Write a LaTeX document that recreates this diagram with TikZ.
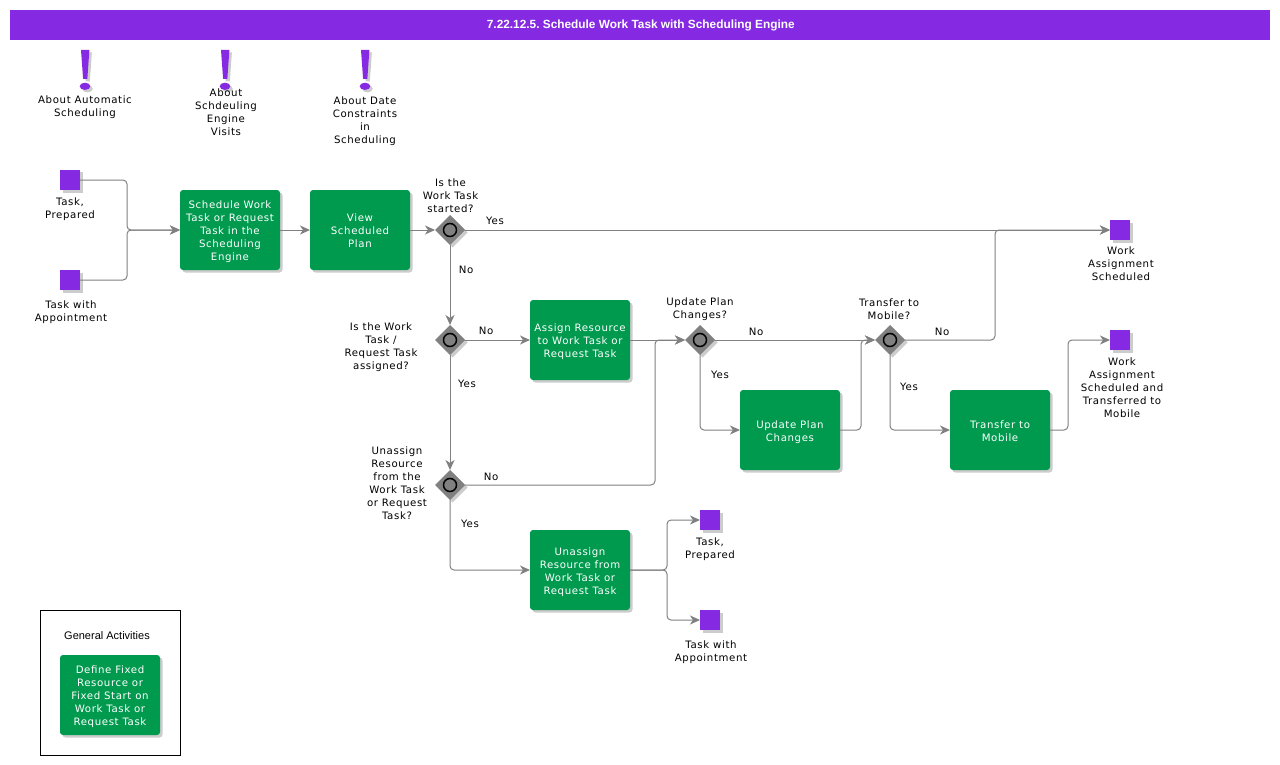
\documentclass[tikz,border=0pt]{standalone}
\usepackage{fontspec}
\setmainfont[LetterSpace=6]{DejaVu Sans}
\newfontfamily\headfont{Liberation Sans}
\usetikzlibrary{arrows.meta,shapes.geometric,shadows}
\definecolor{flowpurple}{HTML}{8529E2}
\definecolor{flowgreen}{HTML}{009A4E}
\definecolor{flowgrey}{HTML}{808080}
\newcommand{\tasktext}[1]{\rule{0pt}{12pt}#1\rule[-2.5pt]{0pt}{0pt}}
\tikzset{
  softshadow/.style={drop shadow={shadow xshift=2.5pt,shadow yshift=-2.5pt,fill=black,opacity=.2}},
  taskbox/.style={fill=flowgreen,rounded corners=3pt,minimum width=100pt,minimum height=80pt,inner sep=0pt,outer sep=0pt,
    text=white,align=center,font=\fontsize{10.2}{13}\selectfont,softshadow},
  endsquare/.style={fill=flowpurple,minimum size=20pt,inner sep=0pt,outer sep=0pt,softshadow},
  gateway/.style={diamond,fill=flowgrey,minimum size=30pt,inner sep=0pt,outer sep=0pt,softshadow},
  gatering/.style={circle,draw=black,fill=flowgrey,line width=1.5pt,minimum size=13pt,inner sep=0pt},
  caption/.style={align=center,text=black,inner sep=0pt,yshift=-1pt,font=\fontsize{10.2}{13}\selectfont},
  flow/.style={draw=flowgrey,line width=1pt,rounded corners=4pt,-{Stealth[length=10pt,width=9pt,inset=3pt]}},
  alertbar/.style={fill=flowpurple,draw=none,softshadow}
}
\begin{document}
\begin{tikzpicture}[x=1pt,y=-1pt]
\useasboundingbox (0,0) rectangle (1280,765);
% title band
\node[fill=flowpurple,minimum width=1260pt,minimum height=30pt,inner sep=0pt,text=white,
  font=\headfont\bfseries\fontsize{11.85}{14}\selectfont] (titleband) at (640,25) {\frenchspacing\hspace*{1.5pt}\raisebox{-1pt}{7.22.12.5. Schedule Work Task with Scheduling Engine}};
% alert marks
\foreach \x in {85,225,365} {
  \path[alertbar] (\x-4,50) -- (\x+4.4,50) -- (\x+2.3,79) -- (\x-1.9,79) -- cycle;
  \path[alertbar] (\x,86.3) ellipse (5.3 and 3.6);
}
\node[caption] (aboutAuto) at (85,106.5) {About Automatic\\Scheduling};
\node[caption] (aboutVisits) at (226,111.5) {About\\Schdeuling\\Engine\\Visits};
\node[caption] (aboutDate) at (365,120) {About Date\\Constraints\\in\\Scheduling};
% events
\node[endsquare] (taskPrepared) at (70,180) {};
\node[endsquare] (taskAppt) at (70,280) {};
\node[endsquare] (assignDone) at (1120,230) {};
\node[endsquare] (mobileDone) at (1120,340) {};
\node[endsquare] (taskPreparedEnd) at (710,520) {};
\node[endsquare] (taskApptEnd) at (710,620) {};
\node[caption] (taskPreparedText) at (70,208) {Task,\\Prepared};
\node[caption] (taskApptText) at (71,311) {Task with\\Appointment};
\node[caption] (assignDoneText) at (1121,263) {Work\\Assignment\\Scheduled};
\node[caption] (mobileDoneText) at (1122,386.5) {Work\\Assignment\\Scheduled and\\Transferred to\\Mobile};
\node[caption] (taskPreparedEndText) at (710,548) {Task,\\Prepared};
\node[caption] (taskApptEndText) at (711,651) {Task with\\Appointment};
% tasks
\node[taskbox] (schedule) at (230,230) {\tasktext{Schedule Work\\Task or Request\\Task in the\\Scheduling\\Engine}};
\node[taskbox] (viewPlan) at (360,230) {\tasktext{View\\Scheduled\\Plan}};
\node[taskbox] (assign) at (580,340) {\tasktext{Assign Resource\\to Work Task or\\Request Task}};
\node[taskbox] (update) at (790,430) {\tasktext{Update Plan\\Changes}};
\node[taskbox] (transfer) at (1000,430) {\tasktext{Transfer to\\Mobile}};
\node[taskbox] (unassign) at (580,570) {\tasktext{Unassign\\Resource from\\Work Task or\\Request Task}};
% gateways
\node[gateway] (gwStarted) at (450,230) {};
\node[gateway] (gwAssigned) at (450,340) {};
\node[gateway] (gwUnassign) at (450,485) {};
\node[gateway] (gwUpdate) at (700,340) {};
\node[gateway] (gwTransfer) at (890,340) {};
\foreach \gw in {gwStarted,gwAssigned,gwUnassign,gwUpdate,gwTransfer}
  \node[gatering] (ring\gw) at (\gw) {};
\node[caption] (gwStartedText) at (450.5,195) {Is the\\Work Task\\started?};
\node[caption] (gwAssignedText) at (381,346) {Is the Work\\Task /\\Request Task\\assigned?};
\node[caption] (gwUnassignText) at (397,482) {Unassign\\Resource\\from the\\Work Task\\or Request\\Task?};
\node[caption] (gwUpdateText) at (700,308.5) {Update Plan\\Changes?};
\node[caption] (gwTransferText) at (889,308) {Transfer to\\Mobile?};
% junctions
\coordinate (joinIn) at (127,230);
\coordinate (joinUnassign) at (655,340);
\coordinate (joinUpdate) at (861,340);
\coordinate (joinScheduled) at (995,230);
\coordinate (joinMobile) at (1068,340);
\coordinate (joinOutA) at (667,520);
\coordinate (joinOutB) at (667,620);
% connectors
\draw[flow] (taskPrepared.east) -| (joinIn) -- (schedule.west);
\draw[flow] (taskAppt.east) -| (joinIn) -- (schedule.west);
\draw[flow] (schedule) -- (viewPlan);
\draw[flow] (viewPlan) -- (gwStarted);
\draw[flow] (gwStarted) -- (assignDone);
\draw[flow] (gwStarted) -- (gwAssigned);
\draw[flow] (gwAssigned) -- (assign);
\draw[flow] (assign) -- (gwUpdate);
\draw[flow] (gwAssigned) -- (gwUnassign);
\draw[flow] (gwUnassign.east) -| (joinUnassign) -- (gwUpdate.west);
\draw[flow] (gwUnassign.south) |- (unassign.west);
\draw[flow] (unassign.east) -| (joinOutA) -- (taskPreparedEnd.west);
\draw[flow] (unassign.east) -| (joinOutB) -- (taskApptEnd.west);
\draw[flow] (gwUpdate) -- (gwTransfer);
\draw[flow] (gwUpdate.south) |- (update.west);
\draw[flow] (update.east) -| (joinUpdate) -- (gwTransfer.west);
\draw[flow] (gwTransfer.east) -| (joinScheduled) -- (assignDone.west);
\draw[flow] (gwTransfer.south) |- (transfer.west);
\draw[flow] (transfer.east) -| (joinMobile) -- (mobileDone.west);
% branch labels
\node[caption] (yesStarted) at (495,220) {Yes};
\node[caption] (noStarted) at (466,268.5) {No};
\node[caption] (noAssigned) at (486,329.5) {No};
\node[caption] (yesAssigned) at (467,382.5) {Yes};
\node[caption] (noUnassign) at (491,475.5) {No};
\node[caption] (yesUnassign) at (470,522.5) {Yes};
\node[caption] (noUpdate) at (756,330.5) {No};
\node[caption] (yesUpdate) at (720,373.5) {Yes};
\node[caption] (noTransfer) at (942,330.5) {No};
\node[caption] (yesTransfer) at (909,385.5) {Yes};
% general activities
\node[draw=black,line width=1pt,minimum width=140pt,minimum height=145pt,inner sep=0pt] (generalBox) at (110.5,683) {};
\node[inner sep=0pt,font=\headfont\fontsize{11}{12}\selectfont] (generalText) at (107,635.5) {General Activities};
\node[taskbox] (defineFixed) at (110,695) {\tasktext{Define Fixed\\Resource or\\Fixed Start on\\Work Task or\\Request Task}};
\end{tikzpicture}
\end{document}
